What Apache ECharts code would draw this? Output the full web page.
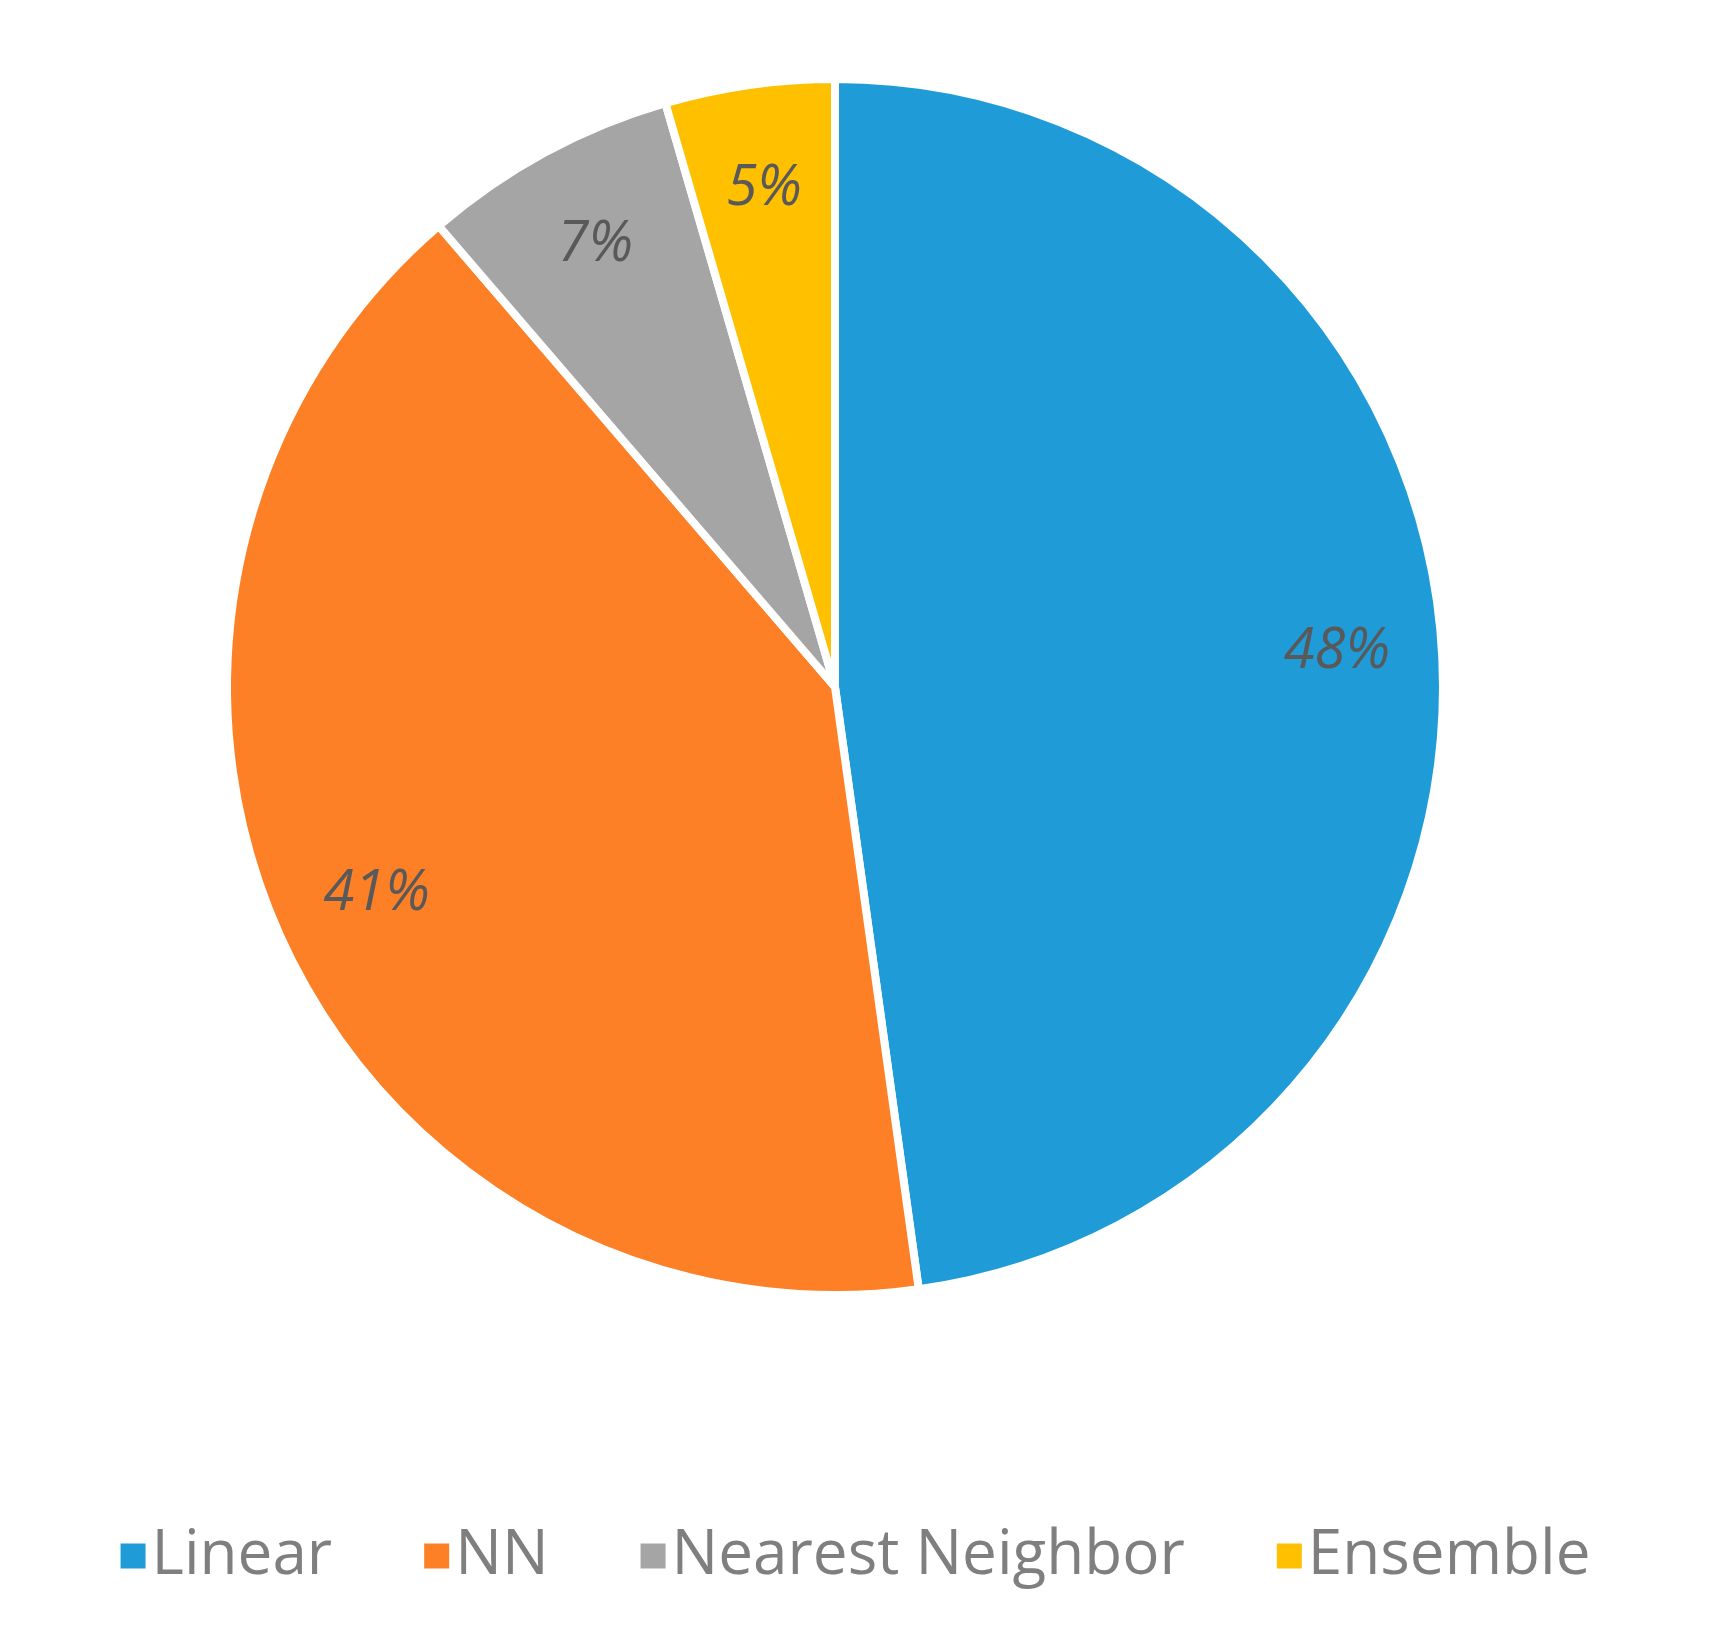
<!DOCTYPE html>
<html>
<head>
<meta charset="utf-8">
<script src="https://cdn.jsdelivr.net/npm/echarts@6/dist/echarts.min.js"></script>
<style>html,body{margin:0;padding:0;background:#fff}#chart{width:1709px;height:1647px}</style>
</head>
<body>
<div id="chart"></div>
<script>
const categories = ['Linear', 'NN', 'Nearest Neighbor', 'Ensemble'];
const values = [47.8, 40.9, 6.8, 4.5];
const colors = ['#1f9cd8', '#fd7f26', '#a5a5a5', '#ffc000'];

const chart = echarts.init(document.getElementById('chart'));
const data = categories.map((name, i) => ({ name, value: values[i], itemStyle: { color: colors[i] } }));

chart.setOption({
    backgroundColor: '#FFFFFF',
    animation: false,
    legend: {
        data: categories,
        bottom: 55,
        left: 'center',
        itemWidth: 27,
        itemHeight: 27,
        itemGap: 90,
        icon: 'rect',
        textStyle: { fontFamily: '"Open Sans"', fontSize: 62, color: '#7f7f7f' }
    },
    series: [
        {
            type: 'pie',
            radius: [0, 608],
            center: [835, 687],
            startAngle: 90,
            clockwise: true,
            label: { show: false },
            itemStyle: { borderColor: '#FFFFFF', borderWidth: 8 },
            data: data
        },
        {
            // transparent ring so the percent labels sit near the rim
            type: 'pie',
            silent: true,
            radius: [0, 1000],
            center: [835, 687],
            startAngle: 90,
            clockwise: true,
            itemStyle: { color: 'rgba(0,0,0,0)' },
            label: {
                show: true,
                position: 'inside',
                formatter: p => Math.round(p.percent) + '%',
                fontFamily: '"Open Sans"',
                fontStyle: 'italic',
                fontSize: 56,
                color: '#595959'
            },
            data: categories.map((name, i) => ({ name: name + ' ', value: values[i] }))
        }
    ]
});
</script>
</body>
</html>
